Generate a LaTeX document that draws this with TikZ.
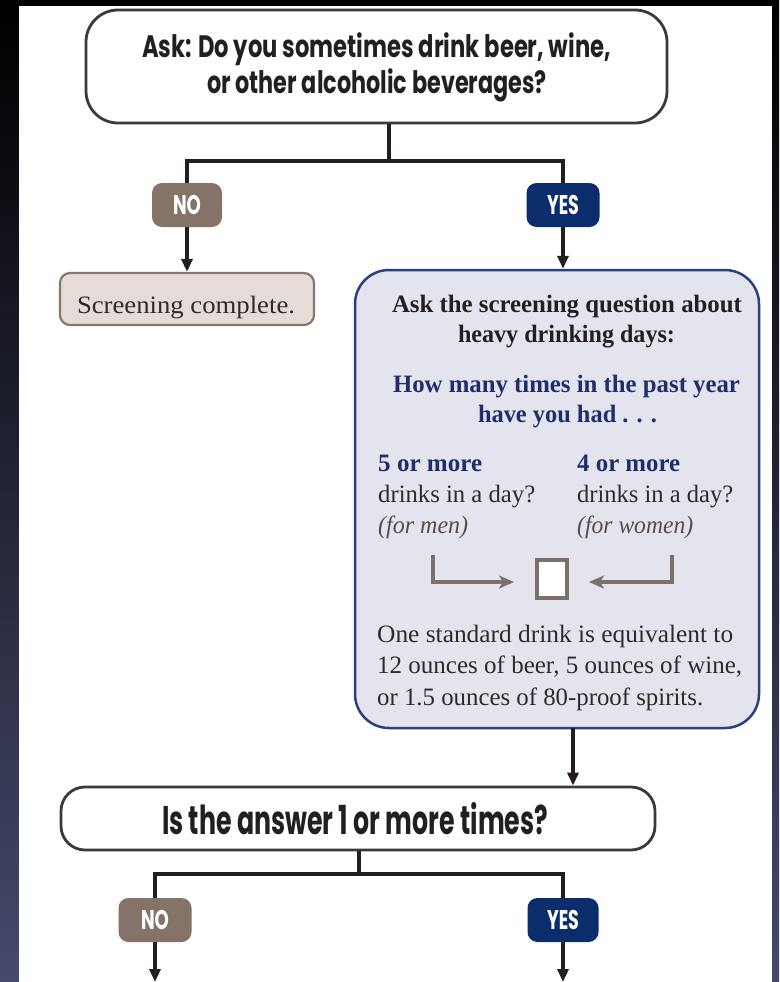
\documentclass[tikz,border=0pt]{standalone}
\usepackage{fontspec}
\setmainfont{Liberation Serif}
\newfontfamily\headfont{Poppins}
\usetikzlibrary{arrows.meta}
\newsavebox\fitbox
\newcommand\fitw[2]{\sbox\fitbox{#2}\pgfmathsetmacro\fitfac{#1/\the\wd\fitbox}\scalebox{\fitfac}[1]{\usebox\fitbox}}
\definecolor{ink}{HTML}{231F20}
\definecolor{navytext}{HTML}{1F2D6A}
\definecolor{graytext}{HTML}{2E2A2A}
\definecolor{browntext}{HTML}{574B46}
\definecolor{nofill}{HTML}{857367}
\definecolor{yesfill}{HTML}{0B2D6B}
\definecolor{bigfill}{HTML}{E3E4EE}
\definecolor{bigdraw}{HTML}{27427D}
\definecolor{scrfill}{HTML}{E5DCD8}
\definecolor{scrdraw}{HTML}{86776E}
\definecolor{brownline}{HTML}{7C7068}
\definecolor{boxline}{HTML}{3A3A3A}
\definecolor{stripbot}{HTML}{45496B}
\begin{document}
\begin{tikzpicture}[x=1pt,y=-1pt,
  qbox/.style={draw=boxline, line width=2.8pt, fill=white, inner sep=0pt},
  pill/.style={rounded corners=10pt, inner sep=0pt, minimum height=44pt, text=white,
    font=\headfont\bfseries\fontsize{27}{27}\selectfont},
  conn/.style={draw=ink, line width=3.4pt},
  arr/.style={conn, -{Triangle[length=13pt,width=11pt]}},
  barr/.style={draw=brownline, line width=3.5pt, -{Stealth[length=15pt,width=13pt,inset=4pt]}},
  head/.style={inner sep=0pt, anchor=base, text=ink, font=\headfont\bfseries\fontsize{31}{31}\selectfont},
  bodytxt/.style={inner sep=0pt, font=\fontsize{25}{25}\selectfont},
  boldtxt/.style={inner sep=0pt, font=\bfseries\fontsize{25}{25}\selectfont},
  ittxt/.style={inner sep=0pt, font=\itshape\fontsize{25}{25}\selectfont},
]
\useasboundingbox (0,0) rectangle (779,982);
% background
\shade[top color=black, bottom color=stripbot] (0,0) rectangle (779,982);
\fill[white] (19,6) rectangle (772,982);

% boxes
\node[qbox, rounded corners=32pt, minimum width=581pt, minimum height=113pt] (top) at (376.5,66.5) {};
\node[pill, fill=nofill, minimum width=70pt] (no1) at (187,205) {\fitw{28pt}{NO}};
\node[pill, fill=yesfill, minimum width=73pt] (yes1) at (563,205) {\fitw{32pt}{YES}};
\node[draw=scrdraw, fill=scrfill, line width=2.2pt, rounded corners=10pt, inner sep=0pt,
      minimum width=254pt, minimum height=52pt] (screen) at (187,299) {};
\node[draw=bigdraw, fill=bigfill, line width=2.5pt, rounded corners=34pt, inner sep=0pt,
      minimum width=404pt, minimum height=458pt] (big) at (557,499) {};
\node[qbox, rounded corners=24pt, minimum width=594pt, minimum height=63pt] (ans) at (358,818.5) {};
\node[pill, fill=nofill, minimum width=73pt] (no2) at (155,920) {\fitw{28pt}{NO}};
\node[pill, fill=yesfill, minimum width=71pt] (yes2) at (563,920) {\fitw{32pt}{YES}};

% texts
\node[head] (t1) at (376.5,57) {\fitw{469pt}{Ask: Do you sometimes drink beer, wine,}};
\node[head] (t1b) at (377,93) {\fitw{340pt}{or other alcoholic beverages?}};
\node[bodytxt, anchor=base, text=graytext] (t2) at (186,313) {\fitw{218pt}{Screening complete.}};
\node[boldtxt, anchor=base, text=ink] (t3) at (567,312) {\fitw{350pt}{Ask the screening question about}};
\node[boldtxt, anchor=base, text=ink] (t4) at (566.5,342) {\fitw{217pt}{heavy drinking days:}};
\node[boldtxt, anchor=base, text=navytext] (t5) at (566.5,392) {\fitw{347pt}{How many times in the past year}};
\node[boldtxt, anchor=base, text=navytext] (t6) at (567.5,422) {\fitw{179pt}{have you had . . .}};
\node[boldtxt, anchor=base west, text=navytext] (t7) at (378,471) {\fitw{104pt}{5 or more}};
\node[bodytxt, anchor=base west, text=graytext] (t8) at (378,502) {\fitw{157pt}{drinks in a day?}};
\node[ittxt, anchor=base west, text=browntext] (t9) at (378,533) {\fitw{90pt}{(for men)}};
\node[boldtxt, anchor=base west, text=navytext] (t10) at (577,471) {\fitw{103pt}{4 or more}};
\node[bodytxt, anchor=base west, text=graytext] (t11) at (577,502) {\fitw{156pt}{drinks in a day?}};
\node[ittxt, anchor=base west, text=browntext] (t12) at (577,533) {\fitw{116pt}{(for women)}};
\node[bodytxt, anchor=base west, text=graytext] (t13) at (377,642) {\fitw{356pt}{One standard drink is equivalent to}};
\node[bodytxt, anchor=base west, text=graytext] (t14) at (377,673) {\fitw{365pt}{12 ounces of beer, 5 ounces of wine,}};
\node[bodytxt, anchor=base west, text=graytext] (t15) at (377,705) {\fitw{326pt}{or 1.5 ounces of 80-proof spirits.}};
\node[head, font=\headfont\bfseries\fontsize{40}{40}\selectfont] (t16) at (355,834) {\fitw{386pt}{Is the answer 1 or more times?}};

% answer square and its arrows
\node[draw=brownline, fill=white, line width=3.5pt, inner sep=0pt, minimum width=30pt, minimum height=38pt] (sq) at (552,579) {};
\coordinate (l1) at (433,555);
\coordinate (l2) at (514,582);
\coordinate (r1) at (672,555);
\coordinate (r2) at (589,582);
\draw[barr] (l1) |- (l2);
\draw[barr] (r1) |- (r2);

% connectors
\coordinate (j1) at (389,161);
\draw[conn] (top.south -| j1) -- (j1);
\draw[conn] (no1.north) |- (j1) -| (yes1.north);
\draw[arr] (no1.south) -- (screen.north);
\draw[arr] (yes1.south) -- (yes1.south |- big.north);
\coordinate (b1) at (573,728);
\draw[arr] (b1) -- (b1 |- ans.north);
\coordinate (j2) at (359,874);
\draw[conn] (ans.south -| j2) -- (j2);
\draw[conn] (no2.north) |- (j2) -| (yes2.north);
\coordinate (e1) at (155,982);
\coordinate (e2) at (563,982);
\draw[arr] (no2.south) -- (e1);
\draw[arr] (yes2.south) -- (e2);
\end{tikzpicture}
\end{document}
